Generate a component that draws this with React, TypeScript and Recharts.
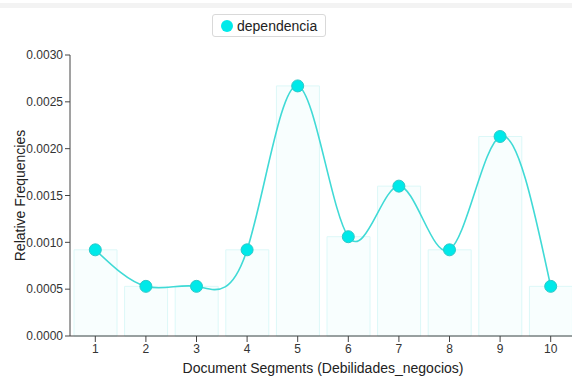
import React from 'react';
import { ComposedChart, Bar, Line, XAxis, YAxis, Label } from 'recharts';

const segments = ['1', '2', '3', '4', '5', '6', '7', '8', '9', '10'];
const dependencia = [0.00092, 0.00053, 0.00053, 0.00092, 0.00267, 0.00106, 0.0016, 0.00092, 0.00213, 0.00053];
const yTicks = [0, 0.0005, 0.001, 0.0015, 0.002, 0.0025, 0.003];

const data = segments.map((s, i) => ({ segment: s, dependencia: dependencia[i] }));

const FONT = '"Liberation Sans", Arial, sans-serif';

export default function App() {
  return (
    <div
      style={{
        position: 'absolute',
        top: 0,
        left: 0,
        width: 572,
        height: 377,
        overflow: 'hidden',
        background: '#fff',
        fontFamily: FONT,
      }}
    >
      <div style={{ position: 'absolute', top: 3, left: 0, width: 572, height: 5, background: '#f3f3f3' }} />
      <div
        style={{
          position: 'absolute',
          top: 14,
          left: 212,
          height: 23,
          padding: '0 8px 0 8px',
          border: '1px solid #d9d9d9',
          borderRadius: 3,
          display: 'flex',
          alignItems: 'center',
          fontSize: 14,
          color: '#222',
          boxSizing: 'border-box',
        }}
      >
        <span
          style={{
            display: 'inline-block',
            width: 12,
            height: 12,
            borderRadius: 6,
            background: '#00eaea',
            marginRight: 4,
          }}
        />
        dependencia
      </div>
      <ComposedChart
        width={600}
        height={377}
        data={data}
        margin={{ top: 55, right: 24, bottom: 0, left: 0 }}
        style={{ position: 'absolute', top: 0, left: 0 }}
      >
        <XAxis
          dataKey="segment"
          height={41}
          tickSize={6}
          stroke="#444"
          tick={{ fill: '#333', fontSize: 12, fontFamily: FONT }}
          tickLine={{ stroke: '#444' }}
        >
          <Label
            value="Document Segments (Debilidades_negocios)"
            position="insideBottom"
            offset={4}
            style={{ fill: '#222', fontSize: 14, fontFamily: FONT }}
          />
        </XAxis>
        <YAxis
          width={70}
          domain={[0, 0.003]}
          ticks={yTicks}
          tickFormatter={(v: number) => v.toFixed(4)}
          tickSize={5}
          stroke="#444"
          tick={{ fill: '#333', fontSize: 12, fontFamily: FONT }}
          interval={0}
        >
          <Label
            value="Relative Frequencies"
            angle={-90}
            position="insideLeft"
            offset={20}
            style={{ textAnchor: 'middle', fill: '#222', fontSize: 14, fontFamily: FONT }}
          />
        </YAxis>
        <Bar
          dataKey="dependencia"
          barSize={43}
          fill="#f8fefe"
          stroke="#dcf8f8"
          strokeWidth={1}
          isAnimationActive={false}
        />
        <Line
          dataKey="dependencia"
          type="natural"
          stroke="#40dad6"
          strokeWidth={1.6}
          dot={{ r: 6, fill: '#00e9e9', stroke: '#2cc9c9', strokeWidth: 1 }}
          activeDot={false}
          isAnimationActive={false}
        />
      </ComposedChart>
    </div>
  );
}
